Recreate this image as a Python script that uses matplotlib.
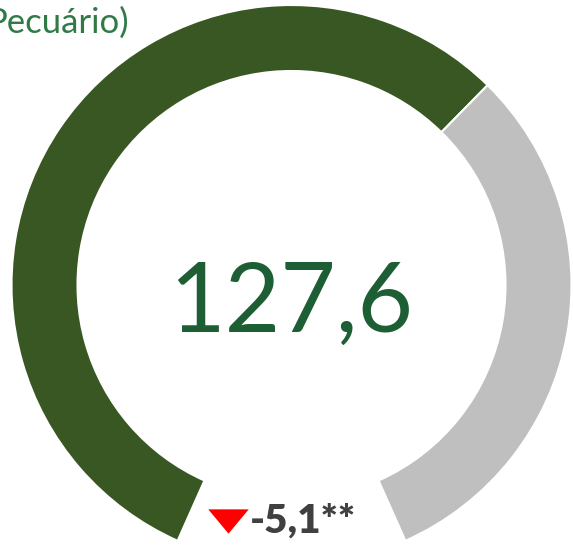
import matplotlib
matplotlib.use("Agg")
import matplotlib.pyplot as plt

# Gauge data
valor = 127.6
restante = 71.0
variacao = -5.1
titulo = "Pecuário)"

cor_valor = "#385723"
cor_resto = "#BFBFBF"
cor_texto = "#1E5E34"

W, H = 573, 548
fig = plt.figure(figsize=(W / 100, H / 100), dpi=100)
ax = fig.add_axes([0, 0, 1, 1])

# 48 deg gap at the bottom of the ring
gap_deg = 48
gap = (valor + restante) * gap_deg / (360 - gap_deg)
cx, cy = 291.5, H - 285
wedges, _ = ax.pie([valor, restante, gap], colors=[cor_valor, cor_resto, "white"],
                   startangle=270 - gap_deg / 2, counterclock=False,
                   center=(cx, cy), radius=280,
                   wedgeprops=dict(width=66, edgecolor="white", linewidth=1.5))
wedges[2].set_visible(False)

ax.set_xlim(0, W)
ax.set_ylim(0, H)
ax.set_aspect("equal")
ax.axis("off")

# value in the middle
ax.text(cx, H - 332, f"{valor:.1f}".replace(".", ","), ha="center", va="baseline",
        fontsize=69, color=cor_texto, family="Lato")

# title, cut on the left in the original
ax.text(129, H - 33, titulo, ha="right", va="baseline", fontsize=25,
        color="#2F7A47", family="Lato")

# change vs previous period
seta = [(-1, 0.6), (1, 0.6), (0, -0.6)] if variacao < 0 else [(-1, -0.6), (1, -0.6), (0, 0.6)]
ax.scatter([228], [H - 521], marker=seta, s=850, color="red", linewidths=0)
ax.text(250, H - 533, f"{variacao:.1f}".replace(".", ",") + "**", ha="left", va="baseline",
        fontsize=29, fontweight="heavy", color="#404040", family="Lato")

fig.savefig("out.png", dpi=100)
